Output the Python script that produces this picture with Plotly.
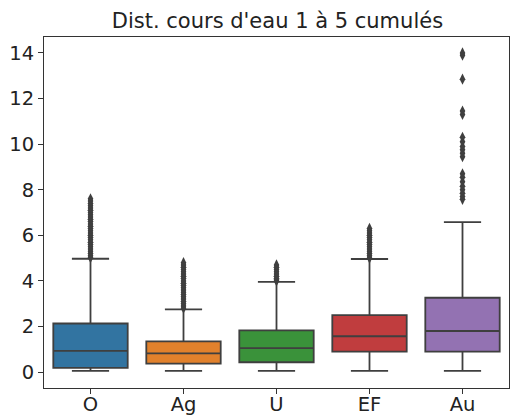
import plotly.graph_objects as go

# Box statistics
categories = ["O", "Ag", "U", "EF", "Au"]
q1 = [0.18, 0.37, 0.43, 0.90, 0.90]
median = [0.93, 0.82, 1.05, 1.57, 1.80]
q3 = [2.13, 1.35, 1.83, 2.50, 3.26]
lower_fence = [0.05, 0.05, 0.05, 0.05, 0.05]
upper_fence = [4.97, 2.75, 3.96, 4.96, 6.58]
colors = ["#3274a1", "#e1812c", "#3a923a", "#c03d3e", "#9372b2"]

# Outliers (fliers)
out_O = [5.02, 5.1, 5.2, 5.3, 5.4, 5.5, 5.6, 5.7, 5.8, 5.9, 6.0, 6.1, 6.2, 6.3,
         6.4, 6.5, 6.6, 6.7, 6.8, 6.9, 7.0, 7.1, 7.2, 7.3, 7.4, 7.5, 7.6]
out_Ag = [2.8, 2.9, 3.0, 3.1, 3.2, 3.3, 3.4, 3.5, 3.6, 3.7, 3.8, 3.9, 4.0,
          4.1, 4.2, 4.3, 4.4, 4.5, 4.6, 4.7, 4.8]
out_U = [4.0, 4.05, 4.1, 4.2, 4.3, 4.4, 4.5, 4.6, 4.7]
out_EF = [5.0, 5.1, 5.2, 5.3, 5.4, 5.5, 5.6, 5.7, 5.8, 5.9, 6.0, 6.1, 6.2, 6.3]
out_Au = [7.58, 7.7, 7.85, 8.0, 8.15, 8.35, 8.55, 8.7, 9.45, 9.6, 9.75, 9.9,
          10.1, 10.3, 11.3, 11.45, 12.85, 13.9, 14.0]
outliers = [out_O, out_Ag, out_U, out_EF, out_Au]

line_col = "#3f3f3f"

fig = go.Figure()

for i, cat in enumerate(categories):
    fig.add_trace(go.Box(
        x=[cat], q1=[q1[i]], median=[median[i]], q3=[q3[i]],
        lowerfence=[lower_fence[i]], upperfence=[upper_fence[i]],
        fillcolor=colors[i], line=dict(color=line_col, width=1.8),
        width=0.8, whiskerwidth=0.5, boxpoints=False,
        showlegend=False, hoverinfo="skip",
    ))
    fig.add_trace(go.Scatter(
        x=[cat] * len(outliers[i]), y=outliers[i], mode="markers",
        marker=dict(symbol="diamond-tall", size=8, color=line_col),
        showlegend=False, hoverinfo="skip",
    ))

axis_font = dict(family="DejaVu Sans", size=19.5, color="#222222")

fig.update_layout(
    width=510, height=419,
    margin=dict(l=44, r=1, t=37, b=31),
    plot_bgcolor="white", paper_bgcolor="white",
    title=dict(text="Dist. cours d'eau 1 à 5 cumulés", x=0.544, xanchor="center",
               y=0.951, yanchor="middle",
               font=dict(family="DejaVu Sans", size=21, color="#222222")),
    xaxis=dict(type="category", categoryorder="array", categoryarray=categories,
               range=[-0.5, 4.5], showline=True, linecolor="#333333", linewidth=1,
               mirror=True, ticks="outside", ticklen=5, tickcolor="#333333",
               ticklabelstandoff=-6,
               showgrid=False, zeroline=False, tickfont=axis_font, automargin=False),
    yaxis=dict(range=[-0.7, 14.7], tickvals=[0, 2, 4, 6, 8, 10, 12, 14],
               showline=True, linecolor="#333333", linewidth=1, mirror=True,
               ticks="outside", ticklen=5, tickcolor="#333333",
               showgrid=False, zeroline=False, tickfont=axis_font, automargin=False),
)

# page body has an 8px default margin; remove it so the figure sits at (0, 0)
fig.write_html("out.html", config={"displayModeBar": False},
               post_script="document.body.style.margin='0';")
